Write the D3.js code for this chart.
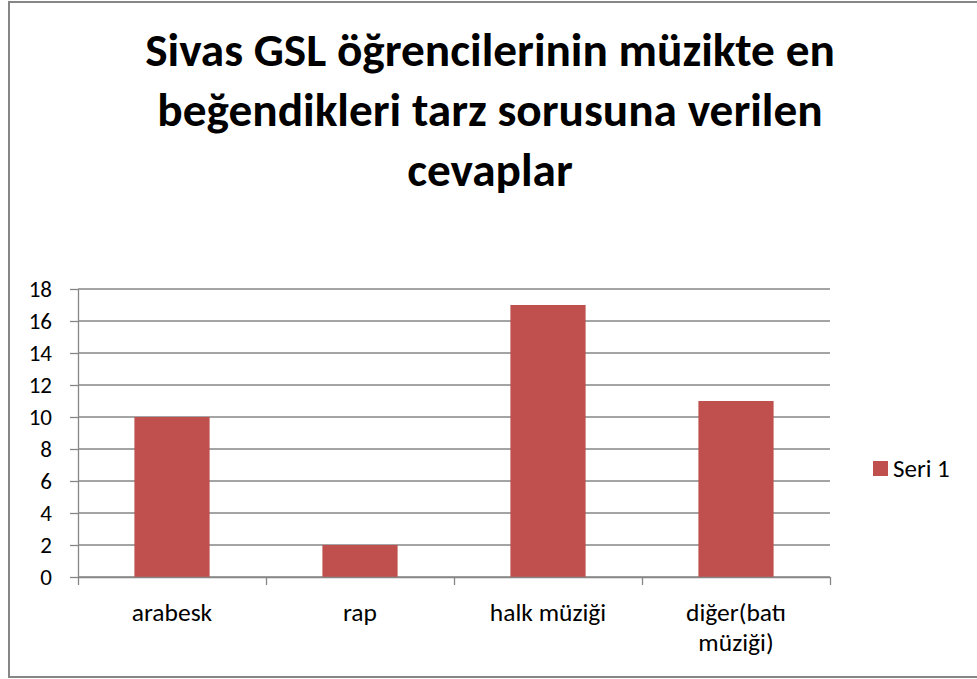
<!DOCTYPE html>
<html>
<head>
<meta charset="utf-8">
<script src="https://cdn.jsdelivr.net/npm/d3@7"></script>
<style>
  html, body { margin: 0; padding: 0; background: #fff; }
  svg { display: block; font-family: Carlito, Calibri, Lato, sans-serif; }
</style>
</head>
<body>
<svg id="chart" width="977" height="679"></svg>
<script>
const titleLines = ["Sivas GSL öğrencilerinin müzikte en", "beğendikleri tarz sorusuna verilen", "cevaplar"];
const categories = ["arabesk", "rap", "halk müziği", "diğer(batı müziği)"];
const seri1 = [10, 2, 17, 11];
const yTicks = [0, 2, 4, 6, 8, 10, 12, 14, 16, 18];
const seriesName = "Seri 1";

const barColor = "#C0504D";
const lineColor = "#868686";
const fontFamily = "Carlito, Calibri, Lato, sans-serif";
const margin = { left: 78, right: 830, top: 289, bottom: 577 };

const svg = d3.select("#chart");

// outer frame (right edge runs off the picture)
svg.append("rect")
  .attr("x", 9).attr("y", 2)
  .attr("width", 1000).attr("height", 675)
  .attr("fill", "#fff")
  .attr("stroke", lineColor)
  .attr("stroke-width", 2);

// title, sized so the first line is about as wide as in the original
const titleText = svg.append("g")
  .attr("font-weight", "bold")
  .attr("fill", "#000")
  .selectAll("text")
  .data(titleLines)
  .join("text")
  .attr("x", 490)
  .attr("y", (d, i) => 66 + i * 60)
  .attr("text-anchor", "middle")
  .attr("font-size", 40)
  .text(d => d);
const w0 = titleText.node().getComputedTextLength();
titleText.attr("font-size", 40 * 690 / w0);

const x = d3.scaleBand()
  .domain(categories)
  .range([margin.left, margin.right])
  .paddingInner(0.6)
  .paddingOuter(0.3);

const xEdges = d3.scaleLinear()
  .domain([0, categories.length])
  .range([margin.left, margin.right]);

const y = d3.scaleLinear()
  .domain([0, 18])
  .range([margin.bottom, margin.top]);

// gridlines
svg.append("g")
  .selectAll("line")
  .data(yTicks)
  .join("line")
  .attr("x1", margin.left).attr("x2", margin.right)
  .attr("y1", d => y(d)).attr("y2", d => y(d))
  .attr("stroke", lineColor)
  .attr("stroke-width", 1.3);

// y axis
const yAxis = svg.append("g")
  .attr("transform", `translate(${margin.left},0)`)
  .call(d3.axisLeft(y).tickValues(yTicks).tickSize(8).tickSizeOuter(0).tickPadding(18));
yAxis.attr("font-size", 23).attr("font-family", fontFamily);
yAxis.select(".domain").attr("stroke", lineColor).attr("stroke-width", 1.3);
yAxis.selectAll(".tick line").attr("stroke", lineColor).attr("stroke-width", 1.3);
yAxis.selectAll(".tick text").attr("fill", "#000");

// bars
svg.append("g")
  .selectAll("rect")
  .data(seri1)
  .join("rect")
  .attr("x", (d, i) => x(categories[i]))
  .attr("y", d => y(d))
  .attr("width", x.bandwidth())
  .attr("height", d => y(0) - y(d))
  .attr("fill", barColor);

// x axis with ticks at category boundaries
const xAxis = svg.append("g")
  .attr("transform", `translate(0,${margin.bottom})`)
  .call(d3.axisBottom(xEdges).ticks(categories.length).tickSize(8).tickSizeOuter(0).tickFormat(""));
xAxis.select(".domain").attr("stroke", lineColor).attr("stroke-width", 1.3);
xAxis.selectAll(".tick line").attr("stroke", lineColor).attr("stroke-width", 1.3);

// category labels, wrapped to the slot width
const labelWidth = x.step() * 0.8;
const labels = svg.append("g")
  .selectAll("text")
  .data(categories)
  .join("text")
  .attr("x", d => x(d) + x.bandwidth() / 2)
  .attr("y", 621)
  .attr("text-anchor", "middle")
  .attr("font-size", 25.5)
  .attr("fill", "#000");

labels.each(function(d) {
  const el = d3.select(this);
  const cx = +el.attr("x");
  let line = [];
  let tspan = el.append("tspan").attr("x", cx).attr("dy", 0);
  d.split(" ").forEach(w => {
    line.push(w);
    tspan.text(line.join(" "));
    if (line.length > 1 && tspan.node().getComputedTextLength() > labelWidth) {
      line.pop();
      tspan.text(line.join(" "));
      line = [w];
      tspan = el.append("tspan").attr("x", cx).attr("dy", 30).text(w);
    }
  });
});

// legend
const legend = svg.append("g").attr("transform", "translate(873,461)");
legend.append("rect")
  .attr("width", 15).attr("height", 15)
  .attr("fill", barColor);
legend.append("text")
  .attr("x", 20).attr("y", 16)
  .attr("font-size", 25)
  .attr("fill", "#000")
  .text(seriesName);
</script>
</body>
</html>
